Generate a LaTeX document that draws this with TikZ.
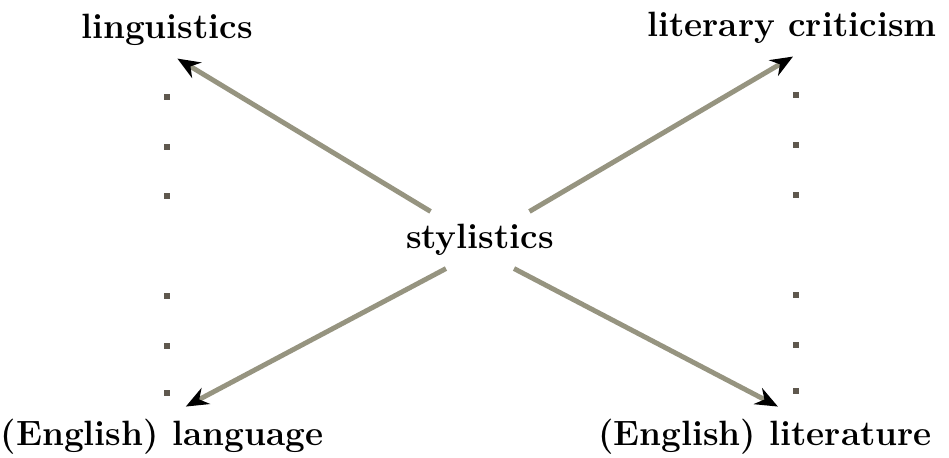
\documentclass[tikz,border=0pt]{standalone}
\usepackage{xcolor}
\usepackage{tikz}
\usetikzlibrary{arrows.meta}

\definecolor{linegray}{RGB}{150,148,128}
\definecolor{dotgray}{RGB}{95,88,78}

\begin{document}
\begin{tikzpicture}[x=0.02cm,y=-0.02cm,
    term/.style={font=\fontsize{20}{24}\selectfont\bfseries,inner sep=0.25cm},
    link/.style={linegray,line width=2.8pt,-{Stealth[black,length=4.5mm,width=3.6mm]}},
    dotmark/.style={fill=dotgray}
]
\useasboundingbox (0,0) rectangle (949,457);

\node[term] (sty) at (480,240) {stylistics};
\node[term] (ling) at (167,30) {linguistics};
\node[term] (crit) at (792,28) {literary criticism};
\node[term] (lang) at (162,437) {(English) language};
\node[term] (lit) at (765,437) {(English) literature};

\draw[link] (sty.150) -- (ling.290);
\draw[link] (sty.30)  -- (crit.272);
\draw[link] (sty.220) -- (lang.52);
\draw[link] (sty.320) -- (lit.67);

% dotted columns
\foreach \yy in {97,147,196,296,346,393}
  \fill[dotmark] (164,\yy-3) rectangle ++(6,6);
\foreach \yy in {95,145,195,295,345,391}
  \fill[dotmark] (793,\yy-3) rectangle ++(6,6);
\end{tikzpicture}
\end{document}
